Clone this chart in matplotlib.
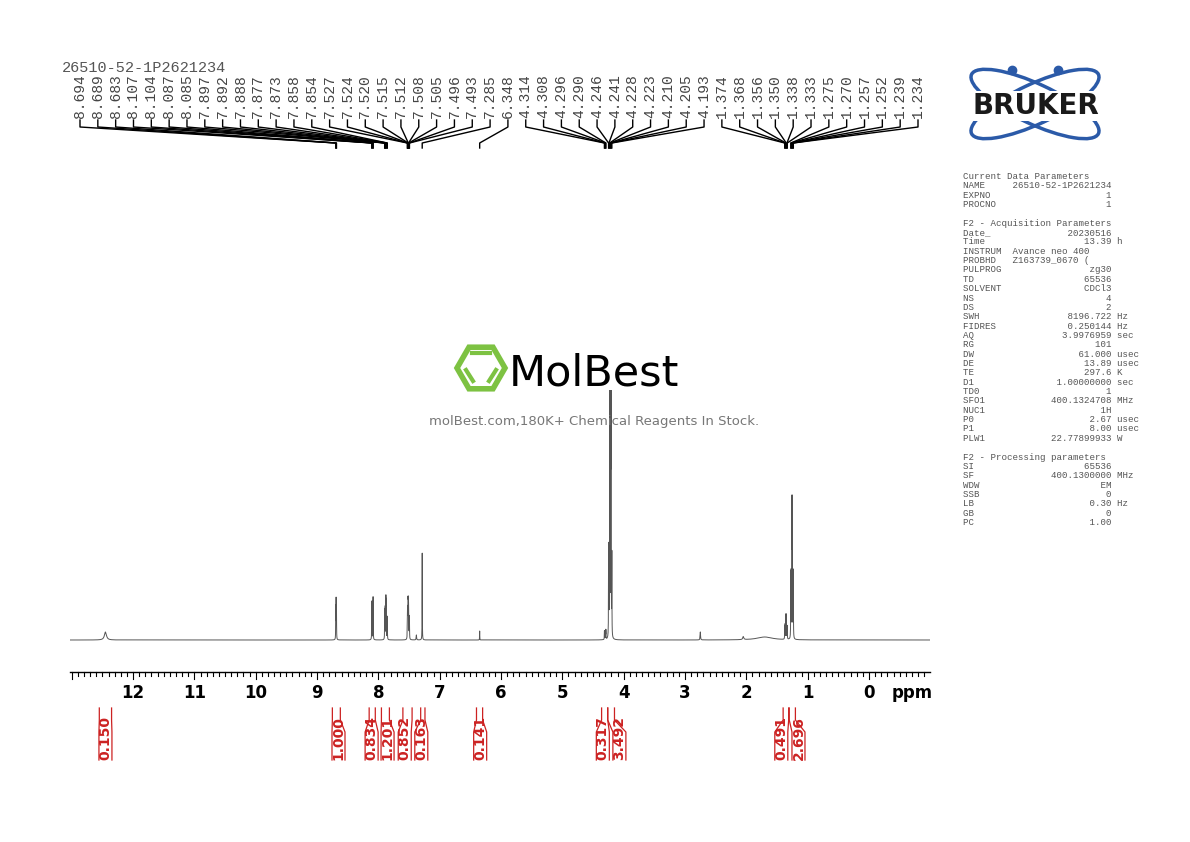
import numpy as np
import matplotlib
matplotlib.use("Agg")
import matplotlib.pyplot as plt
from matplotlib.patches import Polygon, Ellipse

W, H = 1190, 842
title = "26510-52-1P2621234"
peak_labels = [8.694, 8.689, 8.683, 8.107, 8.104, 8.087, 8.085, 7.897, 7.892, 7.888,
               7.877, 7.873, 7.858, 7.854, 7.527, 7.524, 7.520, 7.515, 7.512, 7.508,
               7.505, 7.496, 7.493, 7.285, 6.348, 4.314, 4.308, 4.296, 4.290, 4.246,
               4.241, 4.228, 4.223, 4.210, 4.205, 4.193, 1.374, 1.368, 1.356, 1.350,
               1.338, 1.333, 1.275, 1.270, 1.257, 1.252, 1.239, 1.234]
peak_heights = [30, 37, 30, 30, 30, 28, 28, 20, 24, 28, 38, 34, 20, 18, 20, 22, 24, 30,
                28, 24, 22, 18, 16, 87, 9, 8, 8, 9, 9, 80, 80, 245, 245, 240, 240, 80,
                12, 14, 23, 23, 12, 12, 60, 60, 128, 128, 60, 60]
extra_ppm = [12.45, 2.75, 2.05, 1.7, 7.38]
extra_h = [8, 8, 3, 3, 5]
extra_w = [0.02, 0.004, 0.01, 0.15, 0.004]
integrals = [0.150, 1.000, 0.834, 1.201, 0.852, 0.163, 0.141, 0.317, 3.492, 0.491, 2.696]
int_regions = [(12.55, 12.35), (8.75, 8.62), (8.15, 8.05), (7.95, 7.82), (7.60, 7.45),
               (7.31, 7.24), (6.40, 6.30), (4.36, 4.26), (4.26, 4.15), (1.40, 1.31), (1.30, 1.20)]
int_label_ppm = [12.45, 8.65, 8.11, 7.85, 7.57, 7.30, 6.34, 4.34, 4.07, 1.43, 1.15]
params = """Current Data Parameters
NAME     26510-52-1P2621234
EXPNO                     1
PROCNO                    1

F2 - Acquisition Parameters
Date_              20230516
Time                  13.39 h
INSTRUM  Avance neo 400
PROBHD   Z163739_0670 (
PULPROG                zg30
TD                    65536
SOLVENT               CDCl3
NS                        4
DS                        2
SWH                8196.722 Hz
FIDRES             0.250144 Hz
AQ                3.9976959 sec
RG                      101
DW                   61.000 usec
DE                    13.89 usec
TE                    297.6 K
D1               1.00000000 sec
TD0                       1
SFO1            400.1324708 MHz
NUC1                     1H
P0                     2.67 usec
P1                     8.00 usec
PLW1            22.77899933 W

F2 - Processing parameters
SI                    65536
SF              400.1300000 MHz
WDW                      EM
SSB                       0
LB                     0.30 Hz
GB                        0
PC                     1.00"""

def px(p):
    return 869 - 61.33 * p

fig = plt.figure(figsize=(11.9, 8.42), dpi=100)
x0, x1 = 70, 930
ytop, ybot = 390, 672
sp = fig.add_axes([x0 / W, 1 - ybot / H, (x1 - x0) / W, (ybot - ytop) / H])
ppm = np.linspace(-1.0, 13.03, 40000)
y = np.zeros_like(ppm)
g = 0.0018
for p, h in zip(peak_labels, peak_heights):
    y += h * g**2 / ((ppm - p)**2 + g**2)
for p, h, w in zip(extra_ppm, extra_h, extra_w):
    y += h * w**2 / ((ppm - p)**2 + w**2)
sp.plot(ppm, np.minimum(y, 250), color="#555555", lw=0.7)
sp.set_xlim((869 - x0) / 61.33, (869 - x1) / 61.33)
sp.set_ylim(-32, 250)
sp.axis("off")

ov = fig.add_axes([0, 0, 1, 1])
ov.set_xlim(0, W); ov.set_ylim(H, 0); ov.axis("off")
ov.plot([x0, x1], [672, 672], color="black", lw=1)
for t in np.arange(-10, 131):
    p = t / 10
    xx = px(p)
    if xx < x0 or xx > x1:
        continue
    L = 7 if t % 10 == 0 else 4
    ov.plot([xx, xx], [672, 672 + L], color="black", lw=0.8)
    if t % 10 == 0 and 0 <= t <= 120:
        ov.text(xx, 693, str(t // 10), ha="center", va="center", fontsize=12, fontweight="bold")
ov.text(912, 693, "ppm", ha="center", va="center", fontsize=12, fontweight="bold")

n = len(peak_labels)
for i, p in enumerate(peak_labels):
    lx = 80 + i * (838 / (n - 1))
    ov.text(lx, 118, f"{p:.3f}", rotation=90, ha="center", va="bottom",
            fontsize=10.5, family="Liberation Mono", color="#444444")
    tx = px(p)
    ov.plot([lx, lx, tx, tx], [120, 127, 143, 148], color="black", lw=1)
ov.text(62, 68, title, ha="left", va="center", fontsize=11, family="Liberation Mono", color="#555555")

red = "#cc2222"
for v, (a, b), lp in zip(integrals, int_regions, int_label_ppm):
    xa, xb, xc = px(a), px(b), px(lp)
    ov.plot([xa, xa, xc - 6.5, xc - 6.5], [708, 720, 732, 760], color=red, lw=0.9)
    ov.plot([xb, xb, xc + 6.5, xc + 6.5], [708, 720, 732, 760], color=red, lw=0.9)
    ov.text(xc, 760, f"{v:.3f}", rotation=90, ha="center", va="bottom", color=red,
            fontsize=10, fontweight="bold")

cx, cy, r = 481, 368, 24
hexa = [(cx + r * np.cos(np.radians(a)), cy + r * np.sin(np.radians(a))) for a in range(0, 360, 60)]
ov.add_patch(Polygon(hexa, closed=True, fill=False, ec="#7dc242", lw=4))
ov.plot([cx - 9, cx + 9], [cy - 15, cy - 15], color="#7dc242", lw=3)
ov.plot([cx - 15, cx - 8], [cy + 2, cy + 13], color="#7dc242", lw=3)
ov.plot([cx + 15, cx + 8], [cy + 2, cy + 13], color="#7dc242", lw=3)
ov.text(509, 373, "MolBest", ha="left", va="center", fontsize=31, color="black", family="DejaVu Sans")
ov.text(594, 421, "molBest.com,180K+ Chemical Reagents In Stock.", ha="center", va="center",
        fontsize=9.5, color="#777777")

ov.add_patch(Ellipse((1035, 104), 140, 40, angle=25, fill=False, ec="#2b5aa8", lw=2.5))
ov.add_patch(Ellipse((1035, 104), 140, 40, angle=-25, fill=False, ec="#2b5aa8", lw=2.5))
ov.plot([1012, 1058], [70, 70], "o", color="#2b5aa8", ms=6)
ov.text(1036, 106, "BRUKER", ha="center", va="center", fontsize=20, fontweight="bold",
        color="#1a1a1a", bbox=dict(fc="white", ec="none", pad=0.5))

ov.text(963, 172, params, ha="left", va="top", fontsize=6.6, family="Liberation Mono",
        color="#555555", linespacing=1.05)

fig.savefig("out.png", dpi=100)
